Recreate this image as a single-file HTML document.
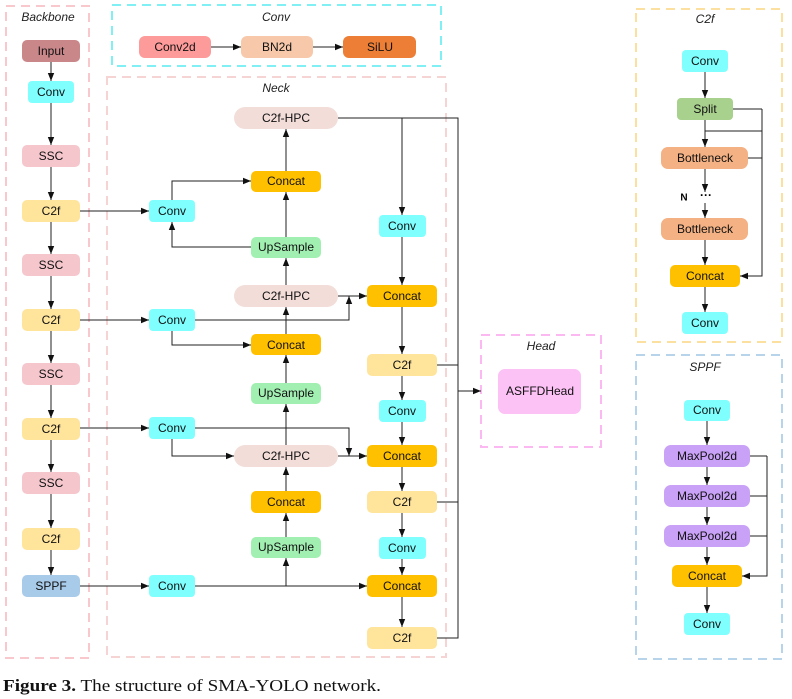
<!DOCTYPE html>
<html><head><meta charset="utf-8"><style>
html,body{margin:0;padding:0;background:#fff}
svg{display:block}
.n{font-family:"Liberation Sans",sans-serif;font-size:12px;fill:#111;text-anchor:middle;dominant-baseline:central}
.t{font-family:"Liberation Sans",sans-serif;font-size:12px;font-style:italic;fill:#222;text-anchor:middle;dominant-baseline:central}
.l{stroke:#222;stroke-width:1;fill:none}
</style></head><body>
<svg width="792" height="699" viewBox="0 0 792 699" xmlns="http://www.w3.org/2000/svg">
<defs><marker id="a" viewBox="0 0 10 10" refX="10" refY="5" markerWidth="8" markerHeight="8" markerUnits="userSpaceOnUse" orient="auto"><path d="M0,1 L10,5 L0,9 z" fill="#111"/></marker></defs>
<!-- boxes -->
<g fill="none" stroke-width="2" stroke-dasharray="9,6">
<rect x="6" y="6" width="83" height="652" stroke="#f8c8cc"/>
<rect x="112" y="5" width="329" height="61" stroke="#80f0f4"/>
<rect x="107" y="77" width="339" height="580" stroke="#f6d4d4"/>
<rect x="481" y="335" width="120" height="112" stroke="#fcb8f0"/>
<rect x="636" y="9" width="146" height="333" stroke="#fbe0a0"/>
<rect x="636" y="355" width="146" height="304" stroke="#b8d4ea"/>
</g>
<text class="t" x="48" y="17">Backbone</text>
<text class="t" x="276" y="17">Conv</text>
<text class="t" x="276" y="88">Neck</text>
<text class="t" x="541" y="346">Head</text>
<text class="t" x="705" y="19">C2f</text>
<text class="t" x="705" y="367">SPPF</text>

<!-- lines -->
<g class="l" marker-end="url(#a)">
<path d="M211 47H241"/><path d="M313 47H343"/>
<path d="M51 62V81"/><path d="M51 103V145"/><path d="M51 167V200"/><path d="M51 222V254"/><path d="M51 276V309"/><path d="M51 331V363"/><path d="M51 385V418"/><path d="M51 440V472"/><path d="M51 494V528"/><path d="M51 550V575"/>
<path d="M80 211H149"/><path d="M80 320H149"/><path d="M80 428H149"/><path d="M80 586H149"/>
<path d="M172 200V181H251"/><path d="M251 247H172V222"/>
<path d="M286 237V192"/><path d="M286 171V129"/><path d="M286 285V258"/>
<path d="M195 320H349V296" /><path d="M338 296H367"/><path d="M172 331V345H251"/>
<path d="M286 334V307"/><path d="M286 383V355"/><path d="M286 445V404"/>
<path d="M195 428H349V456"/><path d="M172 439V456H234"/><path d="M338 456H367"/>
<path d="M286 491V467"/><path d="M286 537V513"/><path d="M286 586V558"/>
<path d="M195 586H367"/>
<path d="M402 118V215"/><path d="M402 237V285"/><path d="M402 307V354"/><path d="M402 376V400"/><path d="M402 422V445"/><path d="M402 467V491"/><path d="M402 513V537"/><path d="M402 559V575"/><path d="M402 597V627"/>
<path d="M458 391H481"/>
<path d="M705 72V98"/><path d="M705 120V147"/><path d="M705 169V192"/><path d="M705 203V218"/><path d="M705 240V265"/><path d="M705 287V312"/>
<path d="M762 109V276H740"/>
<path d="M707 421V445"/><path d="M707 467V485"/><path d="M707 507V525"/><path d="M707 547V565"/><path d="M707 587V613"/>
<path d="M767 456V576H742"/>
</g>
<g class="l">
<path d="M338 118H458V638H437"/><path d="M437 365H458"/><path d="M437 502H458"/>
<path d="M733 109H762"/><path d="M705 131H762"/><path d="M748 158H762"/>
<path d="M750 456H767"/><path d="M750 496H767"/><path d="M750 536H767"/>
</g>
<text x="684" y="198" style="font-family:'Liberation Sans',sans-serif;font-size:10px;font-weight:bold;dominant-baseline:central" text-anchor="middle">N</text>
<text x="706" y="195" style="font-family:'Liberation Sans',sans-serif;font-size:12px;font-weight:bold;dominant-baseline:central" text-anchor="middle">···</text>

<!-- nodes -->
<g>
<rect x="139" y="36" width="72" height="22" rx="6" fill="#fd9a9a"/><text class="n" x="175" y="47">Conv2d</text>
<rect x="241" y="36" width="72" height="22" rx="6" fill="#f7c9aa"/><text class="n" x="277" y="47">BN2d</text>
<rect x="343" y="36" width="73" height="22" rx="6" fill="#ec7e36"/><text class="n" x="380" y="47">SiLU</text>

<rect x="22" y="40" width="58" height="22" rx="5" fill="#c9878a"/><text class="n" x="51" y="51">Input</text>
<rect x="28" y="81" width="46" height="22" rx="4" fill="#80ffff"/><text class="n" x="51" y="92">Conv</text>
<rect x="22" y="145" width="58" height="22" rx="5" fill="#f5c7cd"/><text class="n" x="51" y="156">SSC</text>
<rect x="22" y="200" width="58" height="22" rx="5" fill="#ffe49c"/><text class="n" x="51" y="211">C2f</text>
<rect x="22" y="254" width="58" height="22" rx="5" fill="#f5c7cd"/><text class="n" x="51" y="265">SSC</text>
<rect x="22" y="309" width="58" height="22" rx="5" fill="#ffe49c"/><text class="n" x="51" y="320">C2f</text>
<rect x="22" y="363" width="58" height="22" rx="5" fill="#f5c7cd"/><text class="n" x="51" y="374">SSC</text>
<rect x="22" y="418" width="58" height="22" rx="5" fill="#ffe49c"/><text class="n" x="51" y="429">C2f</text>
<rect x="22" y="472" width="58" height="22" rx="5" fill="#f5c7cd"/><text class="n" x="51" y="483">SSC</text>
<rect x="22" y="528" width="58" height="22" rx="5" fill="#ffe49c"/><text class="n" x="51" y="539">C2f</text>
<rect x="22" y="575" width="58" height="22" rx="5" fill="#a9cbea"/><text class="n" x="51" y="586">SPPF</text>

<rect x="234" y="107" width="104" height="22" rx="11" fill="#f2ddd9"/><text class="n" x="286" y="118">C2f-HPC</text>
<rect x="251" y="171" width="70" height="21" rx="5" fill="#ffc000"/><text class="n" x="286" y="181">Concat</text>
<rect x="149" y="200" width="46" height="22" rx="4" fill="#80ffff"/><text class="n" x="172" y="211">Conv</text>
<rect x="251" y="237" width="70" height="21" rx="5" fill="#a2efb2"/><text class="n" x="286" y="247">UpSample</text>
<rect x="234" y="285" width="104" height="22" rx="11" fill="#f2ddd9"/><text class="n" x="286" y="296">C2f-HPC</text>
<rect x="149" y="309" width="46" height="22" rx="4" fill="#80ffff"/><text class="n" x="172" y="320">Conv</text>
<rect x="251" y="334" width="70" height="21" rx="5" fill="#ffc000"/><text class="n" x="286" y="345">Concat</text>
<rect x="251" y="383" width="70" height="21" rx="5" fill="#a2efb2"/><text class="n" x="286" y="393">UpSample</text>
<rect x="149" y="417" width="46" height="22" rx="4" fill="#80ffff"/><text class="n" x="172" y="428">Conv</text>
<rect x="234" y="445" width="104" height="22" rx="11" fill="#f2ddd9"/><text class="n" x="286" y="456">C2f-HPC</text>
<rect x="251" y="491" width="70" height="22" rx="5" fill="#ffc000"/><text class="n" x="286" y="502">Concat</text>
<rect x="251" y="537" width="70" height="21" rx="5" fill="#a2efb2"/><text class="n" x="286" y="547">UpSample</text>
<rect x="149" y="575" width="46" height="22" rx="4" fill="#80ffff"/><text class="n" x="172" y="586">Conv</text>

<rect x="379" y="215" width="47" height="22" rx="4" fill="#80ffff"/><text class="n" x="402" y="226">Conv</text>
<rect x="367" y="285" width="70" height="22" rx="5" fill="#ffc000"/><text class="n" x="402" y="296">Concat</text>
<rect x="367" y="354" width="70" height="22" rx="5" fill="#ffe49c"/><text class="n" x="402" y="365">C2f</text>
<rect x="379" y="400" width="47" height="22" rx="4" fill="#80ffff"/><text class="n" x="402" y="411">Conv</text>
<rect x="367" y="445" width="70" height="22" rx="5" fill="#ffc000"/><text class="n" x="402" y="456">Concat</text>
<rect x="367" y="491" width="70" height="22" rx="5" fill="#ffe49c"/><text class="n" x="402" y="502">C2f</text>
<rect x="379" y="537" width="47" height="22" rx="4" fill="#80ffff"/><text class="n" x="402" y="548">Conv</text>
<rect x="367" y="575" width="70" height="22" rx="5" fill="#ffc000"/><text class="n" x="402" y="586">Concat</text>
<rect x="367" y="627" width="70" height="22" rx="5" fill="#ffe49c"/><text class="n" x="402" y="638">C2f</text>

<rect x="498" y="369" width="83" height="45" rx="7" fill="#fcc1f5"/><text class="n" x="540" y="391">ASFFDHead</text>

<rect x="682" y="50" width="46" height="22" rx="4" fill="#80ffff"/><text class="n" x="705" y="61">Conv</text>
<rect x="677" y="98" width="56" height="22" rx="4" fill="#a9d18e"/><text class="n" x="705" y="109">Split</text>
<rect x="661" y="147" width="87" height="22" rx="7" fill="#f4b183"/><text class="n" x="705" y="158">Bottleneck</text>
<rect x="661" y="218" width="87" height="22" rx="7" fill="#f4b183"/><text class="n" x="705" y="229">Bottleneck</text>
<rect x="670" y="265" width="70" height="22" rx="5" fill="#ffc000"/><text class="n" x="705" y="276">Concat</text>
<rect x="682" y="312" width="46" height="22" rx="4" fill="#80ffff"/><text class="n" x="705" y="323">Conv</text>

<rect x="684" y="400" width="46" height="21" rx="4" fill="#80ffff"/><text class="n" x="707" y="410">Conv</text>
<rect x="664" y="445" width="86" height="22" rx="7" fill="#c9a1f6"/><text class="n" x="707" y="456">MaxPool2d</text>
<rect x="664" y="485" width="86" height="22" rx="7" fill="#c9a1f6"/><text class="n" x="707" y="496">MaxPool2d</text>
<rect x="664" y="525" width="86" height="22" rx="7" fill="#c9a1f6"/><text class="n" x="707" y="536">MaxPool2d</text>
<rect x="672" y="565" width="70" height="22" rx="5" fill="#ffc000"/><text class="n" x="707" y="576">Concat</text>
<rect x="684" y="613" width="46" height="22" rx="4" fill="#80ffff"/><text class="n" x="707" y="624">Conv</text>
</g>

<text x="3" y="691" style="font-family:'Liberation Serif',serif;font-size:17px;fill:#111" textLength="378" lengthAdjust="spacingAndGlyphs"><tspan font-weight="bold">Figure 3.</tspan> The structure of SMA-YOLO network.</text>
</svg>
</body></html>
